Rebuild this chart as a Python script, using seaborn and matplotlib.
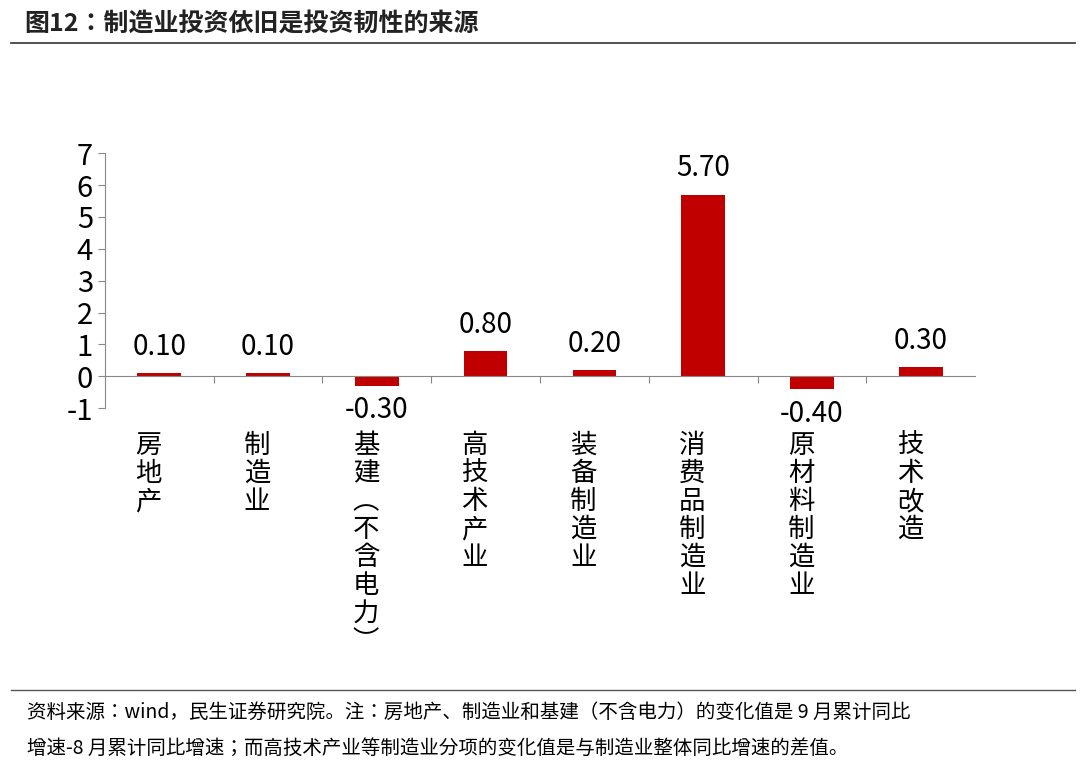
import matplotlib
matplotlib.use("Agg")
import matplotlib.pyplot as plt
from matplotlib import font_manager as fm
import seaborn as sns
import pandas as pd
import glob

categories = ["房地产", "制造业", "基建（不含电力）", "高技术产业", "装备制造业", "消费品制造业", "原材料制造业", "技术改造"]
values = [0.10, 0.10, -0.30, 0.80, 0.20, 5.70, -0.40, 0.30]
yticks = [-1, 0, 1, 2, 3, 4, 5, 6, 7]

for pat in ["/usr/share/fonts/**/*CJK*", "/usr/share/fonts/**/*cjk*", "/usr/local/share/fonts/**/*CJK*"]:
    for f in glob.glob(pat, recursive=True):
        try:
            fm.fontManager.addfont(f)
        except Exception:
            pass
names = sorted({f.name for f in fm.fontManager.ttflist if "CJK" in f.name})
fam = next((n for n in names if "SC" in n), names[0] if names else "DejaVu Sans")
plt.rcParams["font.family"] = [fam, "DejaVu Sans"]
plt.rcParams["axes.unicode_minus"] = False

fig = plt.figure(figsize=(10.8, 7.7), dpi=100)
ax = fig.add_axes([0.097, 0.47, 0.806, 0.331])
df = pd.DataFrame({"cat": categories, "val": values})
sns.barplot(data=df, x="cat", y="val", color="#C00000", width=0.4, ax=ax, saturation=1, label="变化值（%）")
ax.set_ylim(-1, 7)
ax.set_yticks(yticks)
ax.set_yticklabels([str(t) for t in yticks], fontsize=21)
ax.set_xlim(-0.5, len(categories) - 0.5)
ax.set_xlabel(""); ax.set_ylabel("")
for s in ["top", "right"]:
    ax.spines[s].set_visible(False)
ax.spines["bottom"].set_position(("data", 0))
ax.spines["bottom"].set_color("#888888")
ax.spines["left"].set_color("#888888")
ax.tick_params(axis="y", color="#888888", length=5)
ax.set_xticks([i + 0.5 for i in range(len(categories) - 1)])
ax.set_xticklabels([])
ax.tick_params(axis="x", color="#888888", length=5, direction="out")
for i, v in enumerate(values):
    y = v + 0.35 if v >= 0 else v - 0.3
    ax.text(i, y, f"{v:.2f}", ha="center", va="bottom" if v >= 0 else "top", fontsize=20)
vert = {"（": "︵", "）": "︶"}
for i, c in enumerate(categories):
    txt = "\n".join(vert.get(ch, ch) for ch in c)
    ax.text(i - 0.1, -1.75, txt, ha="center", va="top", fontsize=19, linespacing=1.05)
ax.legend(loc="center", bbox_to_anchor=(0.5, 1.68), frameon=False, fontsize=19,
          handlelength=0.8, handleheight=0.8)
fig.text(0.022, 0.968, "图12：制造业投资依旧是投资韧性的来源", fontsize=18, fontweight="bold", va="center", color="#222222")
fig.add_artist(plt.Line2D([0.01, 0.995], [0.944, 0.944], color="#333333", lw=1.2))
fig.add_artist(plt.Line2D([0.01, 0.995], [0.104, 0.104], color="#555555", lw=1.0))
fig.text(0.025, 0.075, "资料来源：wind，民生证券研究院。注：房地产、制造业和基建（不含电力）的变化值是 9 月累计同比", fontsize=14, va="center")
fig.text(0.025, 0.028, "增速-8 月累计同比增速；而高技术产业等制造业分项的变化值是与制造业整体同比增速的差值。", fontsize=14, va="center")
fig.savefig("out.png", dpi=100)
